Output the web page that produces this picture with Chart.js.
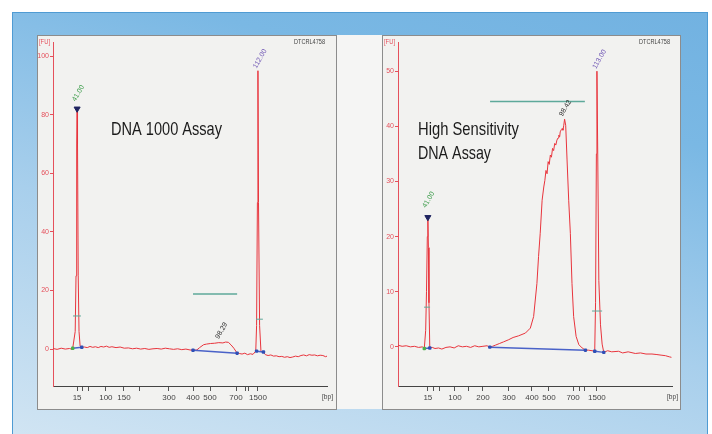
<!DOCTYPE html>
<html>
<head>
<meta charset="utf-8">
<script src="https://cdn.jsdelivr.net/npm/chart.js@4.4.0/dist/chart.umd.min.js"></script>
<style>
  body { margin: 0; width: 712px; height: 434px; overflow: hidden; position: relative; background: #fff; }
  .frame { position: absolute; left: 12px; top: 12px; width: 694px; height: 430px; border: 1px solid #4f9bd3;
           background: linear-gradient(195deg, #72b2e1 0%, #7ab8e4 22%, #a8cfec 58%, #d2e5f3 100%); }
  .sheet { position: absolute; left: 37px; top: 35px; width: 643px; height: 374px; background: #f5f5f4; }
  .panel { position: absolute; top: 35px; border: 1px solid #8c8c8c; background: #f2f2f0; }
  #dnaPanel { left: 37px; }
  #hsPanel { left: 382px; }
  canvas { display: block; }
</style>
</head>
<body>
<div class="frame"></div>
<div class="sheet"></div>
<div class="panel" id="dnaPanel"><canvas id="dnaChart" width="298" height="373"></canvas></div>
<div class="panel" id="hsPanel"><canvas id="hsChart" width="297" height="373"></canvas></div>
<script>
// ladder bands 15, 25, 50, 100, 150, 200, 300, 400, 500, 700, 850, 1000, 1500 bp;
// only some of them get a printed label
const dnaSizeLabels = ['15', '', '', '100', '150', '', '300', '400', '500', '700', '', '', '1500'];
const hsSizeLabels = ['15', '', '', '100', '', '200', '300', '400', '500', '700', '', '', '1500'];
// migration time of each ladder band (time units of the run)
const dnaLadderTimes = [8.8, 10.9, 13.1, 19.3, 25.9, 31.4, 42.3, 51.1, 57.3, 66.8, 70.1, 71.2, 74.8];
const hsLadderTimes = [10.9, 13.1, 15.3, 20.8, 25.9, 31.0, 40.5, 48.9, 55.1, 63.9, 66.4, 68.2, 72.6];

const dnaTicksFU = [0, 20, 40, 60, 80, 100];
const hsTicksFU = [0, 10, 20, 30, 40, 50];

// electropherogram traces: [time, FU]
const dnaTrace = [
  [0, 0.2], [1.5, -0.1], [3, 0.3], [4.5, 0], [6, 0.2], [7, -0.1], [7.2, 0.3], [8.1, 6], [8.4, 25], [8.65, 70],
  [8.8, 82], [8.95, 70], [9.2, 25], [9.5, 6], [9.9, 1.0], [10.5, 0.6], [11.5, 0.7], [12.5, 0.5], [13.5, 0.9],
  [14.5, 0.6], [15.5, 0.8], [16.5, 0.5], [17.5, 0.9], [18.5, 0.7], [19.5, 1.0], [20.5, 0.6], [21.5, 0.8],
  [23, 0.5], [24.5, 0.7], [26, 0.3], [27.5, 0.4], [29, 0.1], [30.5, 0.3], [32, 0], [33.5, 0.2], [35, -0.1],
  [36.5, 0.1], [38, 0.2], [39.5, 0], [41, 0.3], [42.5, 0.1], [44, -0.1], [45.5, 0.1], [47, -0.2], [48.5, 0],
  [50, -0.3], [51.1, -0.4], [52.5, -0.3], [53.5, 0.5], [55, 1.5], [56, 1.7], [57.5, 1.9], [59, 2.0], [60.5, 2.2],
  [62, 2.1], [63, 2.4], [64, 2.3], [65, 1.4], [66, 0.3], [67.2, -1.4], [68, -1.5], [69, -1.7], [70, -1.4],
  [71, -1.9], [72, -1.6], [73, -1.8], [74.0, -0.7], [74.3, 8], [74.6, 50], [74.8, 95], [75.0, 50], [75.4, 8],
  [75.9, -0.8], [76.8, -1.0], [77.5, -1.9], [78.5, -2.2], [79.5, -2.0], [80.5, -2.4], [81.5, -2.3], [82.5, -2.6],
  [83.5, -2.5], [84.5, -2.8], [85.5, -2.6], [86.5, -2.9], [87.5, -2.7], [88.5, -2.4], [89.5, -2.6], [90.5, -2.2],
  [91.5, -2.0], [92.5, -2.3], [93.5, -1.9], [94.5, -2.1], [95.5, -2.0], [96.5, -2.3], [97.5, -2.1], [98.5, -2.2],
  [99.5, -2.6], [100, -2.4]
];
const hsTrace = [
  [0, 0.3], [1.5, 0.1], [3, 0.2], [4.5, 0], [6, 0.1], [7.5, -0.1], [9, 0], [9.6, -0.3], [10.1, 3], [10.4, 10],
  [10.7, 20], [10.9, 23.5], [11.1, 18], [11.3, 8], [11.6, -0.2], [12.5, -0.1], [13.5, -0.3], [14.8, -0.2],
  [16, -0.4], [17.5, -0.1], [19, 0], [20.5, -0.2], [22, 0.2], [23.5, 0], [25, 0.1], [26.5, -0.1], [28, 0.2],
  [29.5, 0], [31, 0.1], [32.5, 0.2], [33.5, -0.05], [34.5, 0.1], [35.5, 0.3], [37, 0.6], [38.5, 0.9], [40.4, 1.3],
  [42, 1.7], [44, 2.0], [46.5, 2.5], [48.3, 3.4], [49.5, 5.5], [50.1, 8.5], [50.7, 11.5], [51.3, 16.4],
  [51.9, 20.6], [52.6, 26.6], [53.2, 29], [53.6, 30.2], [54, 32], [54.4, 31.4], [54.8, 33.6], [55.2, 33.1],
  [55.6, 34.8], [56, 34.4], [56.4, 36], [56.8, 35.6], [57.2, 36.9], [57.6, 36.6], [58, 37.5], [58.4, 37.9],
  [58.7, 38.4], [59, 38.1], [59.2, 39], [59.6, 39.4], [59.9, 39.6], [60.2, 39.3], [60.5, 40.2], [60.8, 41.3],
  [61.2, 40.2], [61.7, 33.9], [62.3, 26.6], [62.9, 20.6], [63.5, 11.5], [64.1, 5.5], [65, 1.9], [66, 0.4],
  [67.2, -0.2], [68.4, -0.6], [69.5, -0.6], [70.8, -0.7], [71.8, -0.8], [72.1, 8], [72.4, 35], [72.6, 50],
  [72.9, 35], [73.3, 12], [73.9, 4], [74.5, 0.5], [75.1, -1.0], [76.5, -0.7], [78, -0.9], [80.5, -0.8],
  [82, -1.1], [84, -0.9], [86.6, -1.2], [88.5, -1.1], [90.5, -1.3], [92.7, -1.3], [94.5, -1.4], [96, -1.5],
  [97.6, -1.6], [99, -1.8], [99.8, -1.9]
];

// integration baselines: lower marker, sample region, upper marker
const dnaBaselines = [[[7.2, 0.3], [10.5, 0.6]], [[51.1, -0.4], [67.2, -1.4]], [[74.3, -0.7], [76.8, -1.0]]];
const hsBaselines = [[[9.6, -0.3], [11.6, -0.2]], [[33.5, -0.05], [68.4, -0.6]], [[71.8, -0.8], [75.1, -1.0]]];

// peak width bars and region bar: [start time, end time, FU]
const dnaWidthBars = [[7.3, 10.2, 11.3], [74.1, 76.6, 10.2], [51.1, 67.2, 18.8]];
const hsWidthBars = [[9.5, 11.7, 7.2], [70.8, 74.5, 6.5], [33.6, 68.2, 44.5]];

// called peaks: [time, FU] and the printed label
const dnaPeakAt = [[8.8, 82], [60.5, 2.2], [74.8, 95]];
const dnaPeakLabels = ['41.00', '98.29', '112.00'];
const hsPeakAt = [[10.9, 23.5], [60.8, 41.3], [72.6, 50]];
const hsPeakLabels = ['41.00', '98.42', '113.00'];

const peakColors = ['#3a9b48', '#2b2b2b', '#7057b5'];
const FONT = '"Liberation Sans", Arial, sans-serif';
const AXIS_RED = '#e5505b';

function fitText(ctx, text, x, y, width) {
  const w = ctx.measureText(text).width;
  ctx.save();
  ctx.translate(x, y);
  ctx.scale(width / w, 1);
  ctx.fillText(text, 0, 0);
  ctx.restore();
}

function panelDecor(cfg) {
  return {
    id: 'panelDecor',
    afterDatasetsDraw(chart) {
      const { ctx, chartArea, scales: { x, y } } = chart;
      ctx.save();
      ctx.font = '8px ' + FONT;
      ctx.fillStyle = AXIS_RED;
      fitText(ctx, '[FU]', 1, 8, 11);
      ctx.fillStyle = '#444';
      fitText(ctx, 'DTCRL4758', chartArea.right - 33, 8, 31);
      fitText(ctx, '[bp]', chartArea.right - 5, chartArea.bottom + 13, 11);

      ctx.fillStyle = '#1b1b1b';
      ctx.font = '19px ' + FONT;
      cfg.title.forEach(l => fitText(ctx, l.text, l.x, l.y, l.w));

      // peak labels, slanted
      ctx.font = '7px ' + FONT;
      cfg.labels.forEach((text, i) => {
        const [t, fu] = cfg.peakAt[i];
        ctx.save();
        ctx.translate(x.getPixelForValue(t) + cfg.offsets[i][0], y.getPixelForValue(fu) + cfg.offsets[i][1]);
        ctx.rotate(-Math.PI / 3);
        ctx.fillStyle = peakColors[i];
        ctx.fillText(text, 0, 0);
        ctx.restore();
      });
      ctx.restore();
    }
  };
}

function makeChart(id, cfg) {
  const pts = arr => arr.map(([x, y]) => ({ x, y }));
  const datasets = [{
    data: pts(cfg.trace),
    borderColor: '#e8343c',
    borderWidth: 1,
    pointRadius: 0,
    order: 1
  }];
  cfg.baselines.forEach((seg, i) => datasets.push({
    data: pts(seg),
    borderColor: '#4a62c8',
    borderWidth: 1.5,
    pointRadius: 2,
    pointStyle: 'rectRounded',
    pointBackgroundColor: i === 0 ? ['#4cb04c', '#2f4fb5'] : '#2f4fb5',
    pointBorderWidth: 0,
    order: 0
  }));
  cfg.widthBars.forEach(([a, b, fu], i) => datasets.push({
    data: [{ x: a, y: fu }, { x: b, y: fu }],
    borderColor: '#5ea99a',
    borderWidth: i === 2 ? 1.6 : 1,
    pointRadius: 0,
    order: 0
  }));
  // lower marker arrow
  datasets.push({
    data: [{ x: cfg.peakAt[0][0], y: cfg.peakAt[0][1] }],
    pointStyle: 'triangle',
    rotation: 180,
    pointRadius: 3.5,
    pointBackgroundColor: '#1f2460',
    pointBorderColor: '#1f2460',
    showLine: false,
    order: 0
  });

  return new Chart(document.getElementById(id), {
    type: 'line',
    data: { datasets },
    options: {
      responsive: false,
      animation: false,
      layout: { padding: { top: 6, right: cfg.padRight, left: 0, bottom: 0 } },
      plugins: { legend: { display: false }, tooltip: { enabled: false } },
      scales: {
        x: {
          type: 'linear',
          min: 0,
          max: 100,
          afterBuildTicks: s => { s.ticks = cfg.ladder.map(v => ({ value: v })); },
          afterFit: s => { s.height = 23; },
          ticks: {
            autoSkip: false,
            maxRotation: 0,
            padding: 2,
            color: '#444',
            font: { family: FONT, size: 8 },
            callback: (v, i) => cfg.sizeLabels[i]
          },
          grid: { drawOnChartArea: false, tickLength: 5, color: '#555' },
          border: { color: '#444' }
        },
        y: {
          min: cfg.yMin,
          max: cfg.yMax,
          afterBuildTicks: s => { s.ticks = cfg.ticksFU.map(v => ({ value: v })); },
          afterFit: s => { s.width = 15; },
          ticks: { padding: 1, color: AXIS_RED, font: { family: FONT, size: 7 } },
          grid: { drawOnChartArea: false, tickLength: 3, color: AXIS_RED },
          border: { color: AXIS_RED }
        }
      }
    },
    plugins: [panelDecor({
      title: cfg.title,
      labels: cfg.labels,
      peakAt: cfg.peakAt,
      offsets: cfg.offsets
    })]
  });
}

makeChart('dnaChart', {
  trace: dnaTrace,
  ladder: dnaLadderTimes,
  sizeLabels: dnaSizeLabels,
  ticksFU: dnaTicksFU,
  yMin: -12.6,
  yMax: 104.8,
  baselines: dnaBaselines,
  widthBars: dnaWidthBars,
  peakAt: dnaPeakAt,
  labels: dnaPeakLabels,
  offsets: [[-1.5, -7], [0, -3.5], [-1.5, -2]],
  padRight: 9,
  title: [{ text: 'DNA 1000 Assay', x: 73, y: 99, w: 111 }]
});

makeChart('hsChart', {
  trace: hsTrace,
  ladder: hsLadderTimes,
  sizeLabels: hsSizeLabels,
  ticksFU: hsTicksFU,
  yMin: -7.1,
  yMax: 55.3,
  baselines: hsBaselines,
  widthBars: hsWidthBars,
  peakAt: hsPeakAt,
  labels: hsPeakLabels,
  offsets: [[-2, -9], [-2, -2.5], [-1, -2]],
  padRight: 8,
  title: [
    { text: 'High Sensitivity', x: 35, y: 99, w: 101 },
    { text: 'DNA Assay', x: 35, y: 123, w: 73 }
  ]
});
</script>
</body>
</html>
